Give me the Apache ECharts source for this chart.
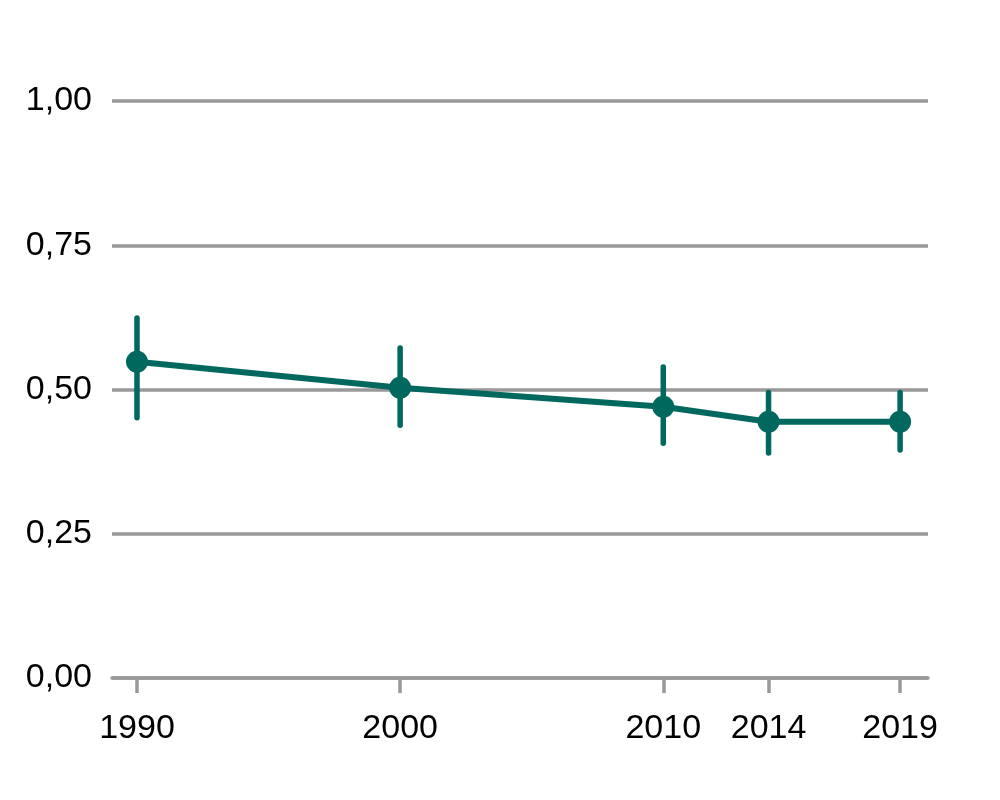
<!DOCTYPE html>
<html><head><meta charset="utf-8">
<script src="https://cdn.jsdelivr.net/npm/echarts@6/dist/echarts.min.js"></script>
<style>html,body{margin:0;padding:0;background:#fff}#c{width:1000px;height:800px}</style>
</head><body><div id="c"></div>
<script>
const years = [1990, 2000, 2010, 2014, 2019];
const values = [0.548, 0.503, 0.470, 0.444, 0.444];
const lower = [0.451, 0.438, 0.407, 0.390, 0.395];
const upper = [0.624, 0.572, 0.539, 0.495, 0.495];
const yTicks = [0, 0.25, 0.5, 0.75, 1];
const color = '#00685F';

const chart = echarts.init(document.getElementById('c'));
chart.setOption({
  animation: false,
  grid: {left: 112, right: 72, top: 101, bottom: 122},
  xAxis: {
    type: 'value', min: 1989.05, max: 2020.06,
    splitLine: {show: false},
    axisLine: {lineStyle: {color: '#999', width: 3.5}},
    axisTick: {show: true, customValues: years, length: 15, lineStyle: {color: '#999', width: 3.5}},
    axisLabel: {customValues: years, fontFamily: 'Liberation Sans', fontSize: 34, color: '#000', margin: 34, formatter: v => String(v)}
  },
  yAxis: {
    type: 'value', min: 0, max: 1, interval: 0.25,
    axisLine: {show: false}, axisTick: {show: false},
    splitLine: {lineStyle: {color: '#999', width: 3.5}},
    axisLabel: {customValues: yTicks, fontFamily: 'Liberation Sans', fontSize: 34, color: '#000', margin: 20,
      formatter: v => v.toFixed(2).replace('.', ',')}
  },
  series: [
    {
      type: 'custom',
      data: years.map((y, i) => [y, lower[i], upper[i]]),
      renderItem: (params, api) => {
        const a = api.coord([api.value(0), api.value(1)]);
        const b = api.coord([api.value(0), api.value(2)]);
        return {type: 'line', shape: {x1: a[0], y1: a[1], x2: b[0], y2: b[1]},
          style: {stroke: color, lineWidth: 5.5, lineCap: 'round'}};
      },
      z: 2
    },
    {
      type: 'line',
      data: years.map((y, i) => [y, values[i]]),
      symbol: 'circle', symbolSize: 22,
      lineStyle: {color: color, width: 6},
      itemStyle: {color: color},
      z: 3
    }
  ]
});
</script></body></html>
